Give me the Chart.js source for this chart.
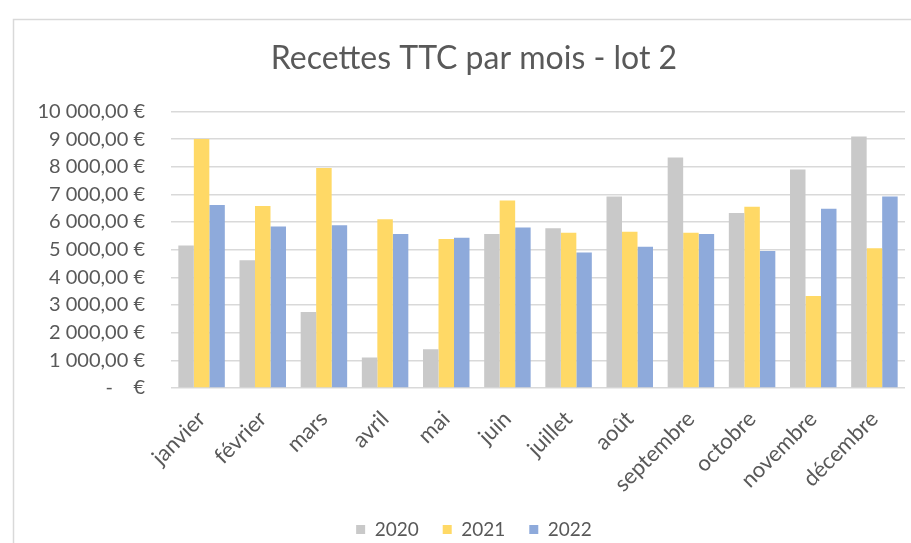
<!DOCTYPE html>
<html>
<head>
<meta charset="utf-8">
<script src="https://cdn.jsdelivr.net/npm/chart.js@4/dist/chart.umd.min.js"></script>
<style>
  html, body { margin:0; padding:0; background:#fff; overflow:hidden; }
  #wrap { position:relative; width:911px; height:543px; }
</style>
</head>
<body>
<div id="wrap"><canvas id="chart" width="911" height="543"></canvas></div>
<script>
// -- DATA
const months = ['janvier','février','mars','avril','mai','juin','juillet','août','septembre','octobre','novembre','décembre'];
const years  = ['2020','2021','2022'];
const values2020 = [5150, 4620, 2750, 1100, 1400, 5570, 5780, 6920, 8330, 6330, 7900, 9090];
const values2021 = [9000, 6580, 7950, 6100, 5390, 6780, 5610, 5650, 5610, 6550, 3330, 5050];
const values2022 = [6620, 5840, 5880, 5570, 5430, 5800, 4900, 5110, 5570, 4950, 6480, 6920];
const yMax  = 10000;
const yStep = 1000;

const colors = ['#c9c9c9', '#ffd966', '#8eaadb'];
const textColor = '#595959';
const FONT = 'Lato, "Open Sans", sans-serif';

function euro(v) {
  if (v === 0) return '-\u00a0\u00a0\u00a0\u00a0€';
  const s = Math.round(v).toString().replace(/\B(?=(\d{3})+(?!\d))/g, '\u00a0');
  return s + ',00\u00a0€';
}

// -- FRAME (chart border, cut off on right/bottom like the screenshot)
const framePlugin = {
  id: 'frame',
  beforeDraw(chart) {
    const ctx = chart.ctx;
    ctx.save();
    ctx.fillStyle = '#fff';
    ctx.fillRect(0, 0, chart.width, chart.height);
    ctx.strokeStyle = '#d9d9d9';
    ctx.lineWidth = 1.5;
    ctx.strokeRect(13.5, 19.5, 1000, 1000);
    ctx.restore();
  }
};

const ctx = document.getElementById('chart').getContext('2d');
new Chart(ctx, {
  type: 'bar',
  data: {
    labels: months,
    datasets: [
      { label: years[0], data: values2020, backgroundColor: colors[0] },
      { label: years[1], data: values2021, backgroundColor: colors[1] },
      { label: years[2], data: values2022, backgroundColor: colors[2] }
    ]
  },
  options: {
    responsive: false,
    animation: false,
    // original chart is wider than the screenshot: title/legend centre sits right of the window centre
    layout: { padding: { left: 14, right: -23, top: 19, bottom: -6 } },
    datasets: { bar: { categoryPercentage: 0.76, barPercentage: 1.0, borderWidth: 0 } },
    plugins: {
      title: {
        display: true,
        text: 'Recettes TTC par mois - lot 2',
        color: textColor,
        font: { family: FONT, size: 32, weight: 'normal', lineHeight: 1.2 },
        padding: { top: 20, bottom: 34 }
      },
      legend: {
        position: 'bottom',
        labels: {
          color: textColor,
          font: { family: FONT, size: 19 },
          boxWidth: 9, boxHeight: 9,
          padding: 24
        }
      },
      tooltip: { enabled: false }
    },
    scales: {
      x: {
        grid: { display: false },
        border: { display: false },
        ticks: {
          color: textColor,
          font: { family: FONT, size: 22 },
          minRotation: 45, maxRotation: 45,
          autoSkip: false,
          padding: 10
        },
        afterFit(scale) { scale.height = 108; }
      },
      y: {
        min: 0, max: yMax,
        grid: { color: '#d9d9d9', lineWidth: 1.5, drawTicks: false },
        border: { display: false },
        ticks: {
          stepSize: yStep,
          color: textColor,
          font: { family: FONT, size: 20 },
          padding: 26,
          callback: v => euro(v)
        },
        afterFit(scale) { scale.width = 157; }
      },
      yRight: {
        position: 'right',
        min: 0, max: yMax,
        grid: { display: false, drawTicks: false },
        border: { display: false },
        ticks: { display: false },
        afterFit(scale) { scale.width = 29; }
      }
    }
  },
  plugins: [framePlugin]
});
</script>
</body>
</html>
